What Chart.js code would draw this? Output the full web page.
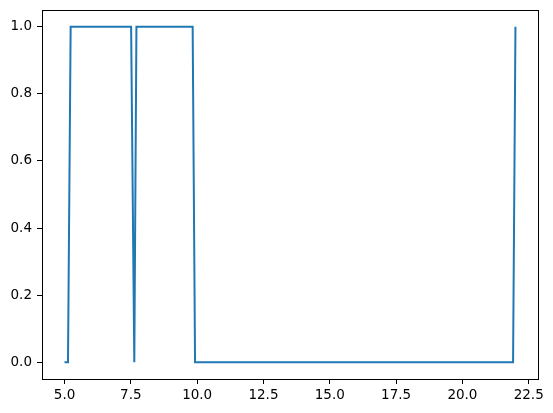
<!DOCTYPE html>
<html>
<head>
<meta charset="utf-8">
<script src="https://cdn.jsdelivr.net/npm/chart.js@4/dist/chart.umd.min.js"></script>
<style>
  html, body { margin: 0; padding: 0; background: #fff; }
  #wrap { width: 553px; height: 413px; }
</style>
</head>
<body>
<div id="wrap"><canvas id="chart" width="553" height="413"></canvas></div>
<script>
// data (corner points of the signal)
const xValues = [5.0, 5.13, 5.23, 7.51, 7.63, 7.71, 9.83, 9.92, 21.91, 22.0];
const yValues = [0, 0, 1, 1, 0, 1, 1, 0, 0, 1];

// tick labels
const xTicks = [5.0, 7.5, 10.0, 12.5, 15.0, 17.5, 20.0, 22.5];
const yTicks = [0.0, 0.2, 0.4, 0.6, 0.8, 1.0];

const points = xValues.map((x, i) => ({ x: x, y: yValues[i] }));

// box round the plot area, like matplotlib
const frame = {
  id: "frame",
  afterDraw(chart) {
    const a = chart.chartArea;
    const ctx = chart.ctx;
    ctx.save();
    ctx.strokeStyle = "#000";
    ctx.lineWidth = 1;
    ctx.strokeRect(Math.round(a.left) + 0.5, Math.round(a.top) + 0.5,
      Math.round(a.right - a.left), Math.round(a.bottom - a.top));
    ctx.restore();
  },
};

const font = { family: "DejaVu Sans", size: 13.5 };

const config = {
  type: "scatter",
  data: {
    datasets: [
      {
        data: points,
        showLine: true,
        borderColor: "#1f77b4",
        borderWidth: 2,
        pointRadius: 0,
        fill: false,
        tension: 0,
      },
    ],
  },
  options: {
    responsive: false,
    animation: false,
    layout: { padding: { top: 10, right: 15, left: 0, bottom: 0 } },
    plugins: { legend: { display: false }, tooltip: { enabled: false } },
    scales: {
      x: {
        type: "linear",
        min: 4.15,
        max: 22.85,
        afterBuildTicks: (s) => { s.ticks = xTicks.map((v) => ({ value: v })); },
        afterFit: (s) => { s.height = 34; s.paddingLeft = 0; s.paddingRight = 0; },
        ticks: {
          color: "#000",
          font: font,
          padding: 3,
          maxRotation: 0,
          autoSkip: false,
          callback: (v) => v.toFixed(1),
        },
        grid: { drawOnChartArea: false, drawTicks: true, tickLength: 5, color: "#000" },
        border: { display: true, color: "#000" },
      },
      y: {
        type: "linear",
        min: -0.05,
        max: 1.05,
        afterBuildTicks: (s) => { s.ticks = yTicks.map((v) => ({ value: v })); },
        afterFit: (s) => { s.width = 42; s.paddingTop = 0; s.paddingBottom = 0; },
        ticks: {
          color: "#000",
          font: font,
          padding: 5,
          autoSkip: false,
          callback: (v) => v.toFixed(1),
        },
        grid: { drawOnChartArea: false, drawTicks: true, tickLength: 5, color: "#000" },
        border: { display: true, color: "#000" },
      },
    },
  },
  plugins: [frame],
};

new Chart(document.getElementById("chart"), config);
</script>
</body>
</html>
